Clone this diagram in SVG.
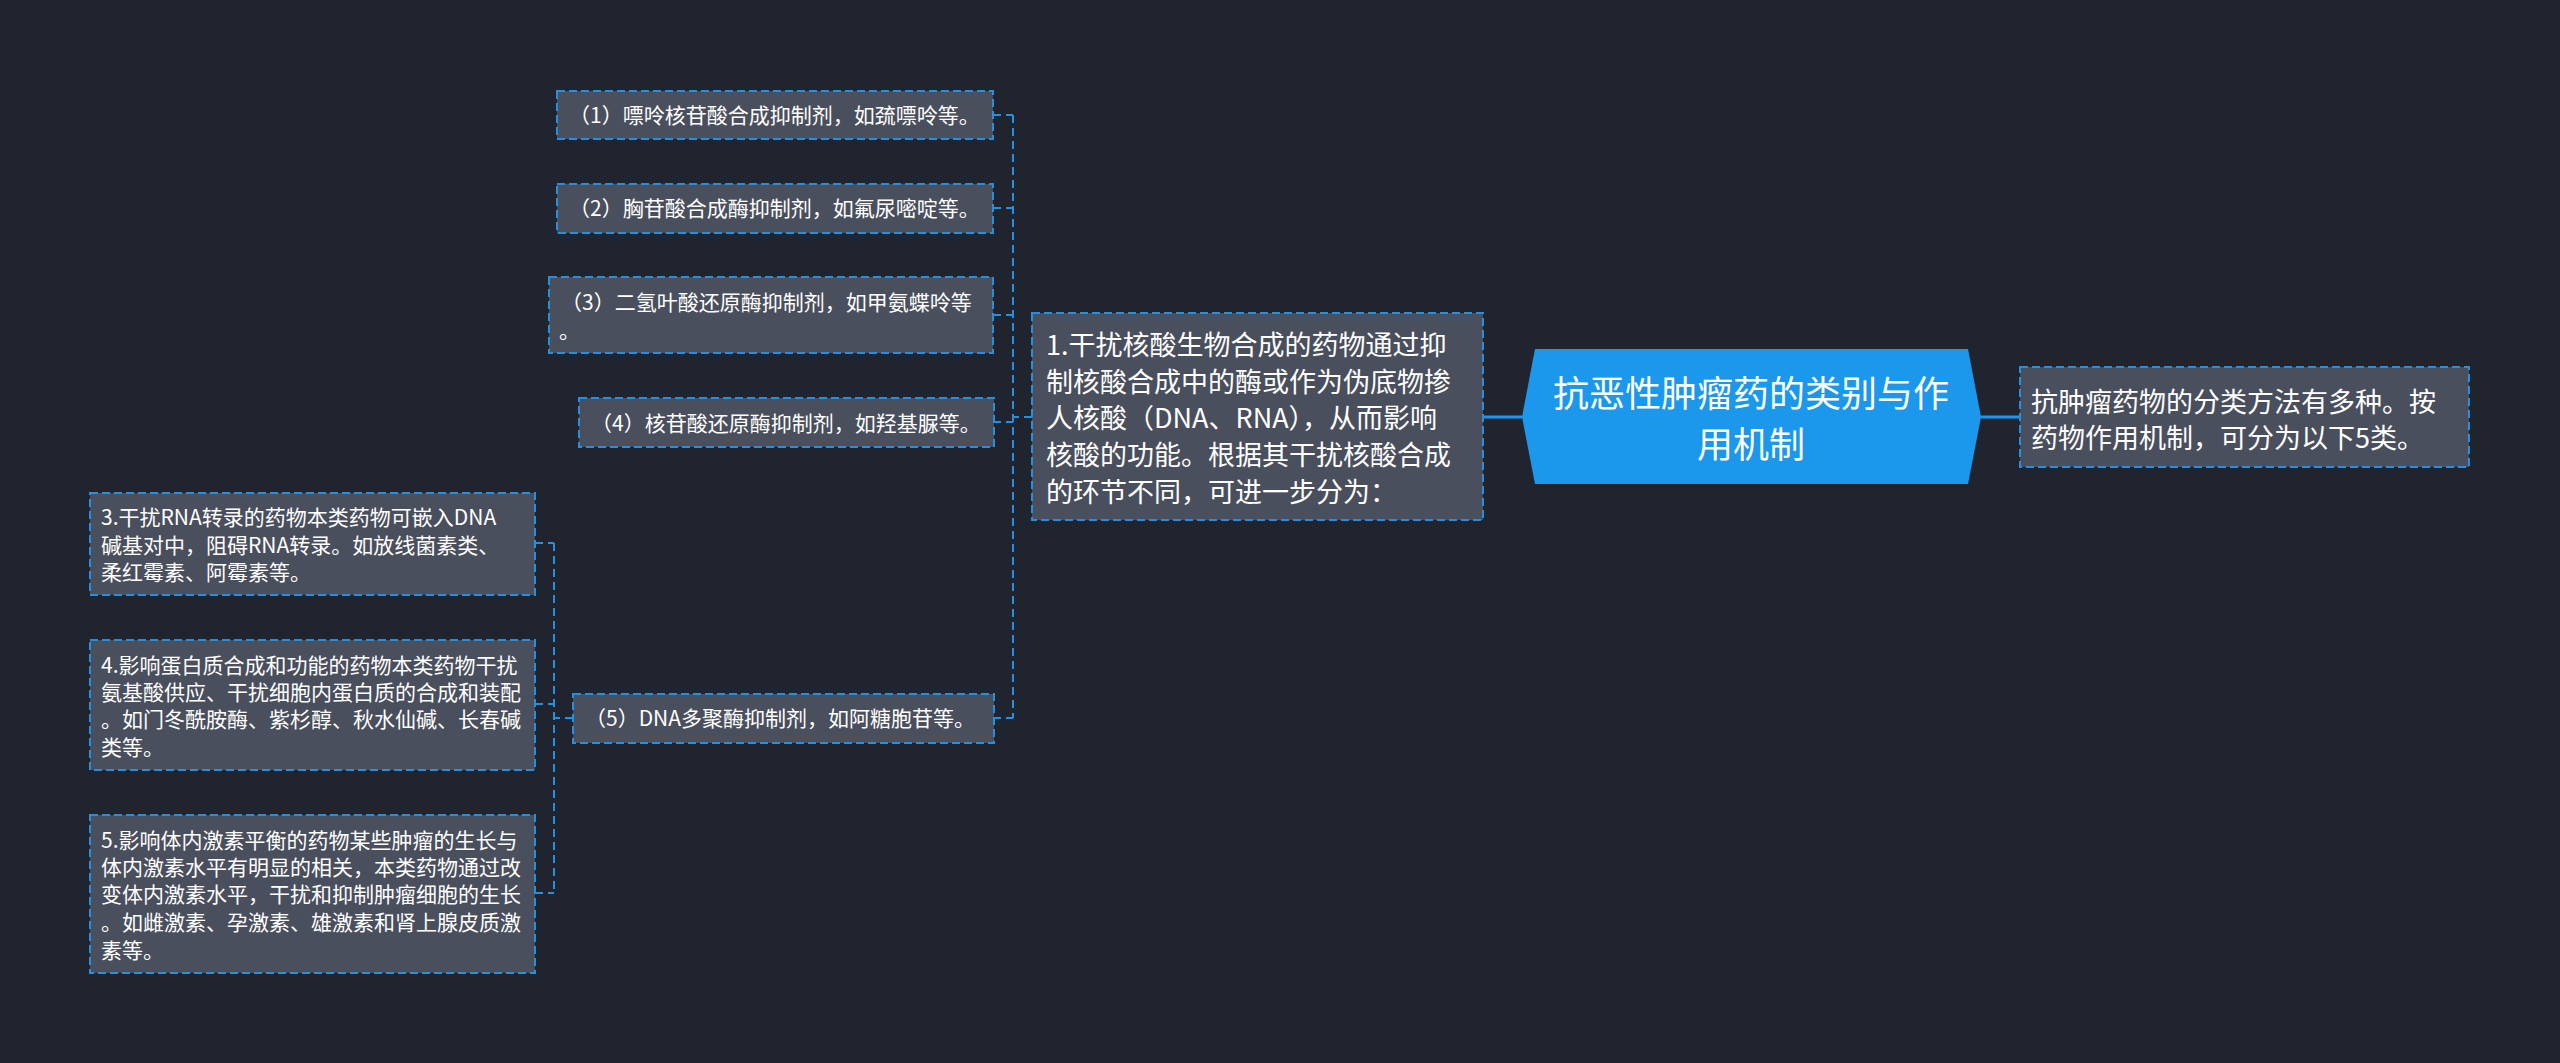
<svg xmlns="http://www.w3.org/2000/svg" width="2560" height="1063" viewBox="0 0 2560 1063">
<style>
.bg{fill:#20242f}
.box{fill:#4a4f5d;stroke:#2690e0;stroke-width:2;stroke-dasharray:8 4}
.conn{fill:none;stroke:#2690e0;stroke-width:2;stroke-dasharray:8 5}
.solid{fill:none;stroke:#1b98ec;stroke-width:3}
.root{fill:#1b98ec}
text{font-family:"Noto Sans CJK SC","Noto Sans",sans-serif;fill:#ffffff}
.s{font-size:21px}
.m{font-size:27px}
.l{font-size:36px}
</style>
<rect class="bg" x="0" y="0" width="2560" height="1063"/>

<g id="connectors">
  <line class="solid" x1="1483" y1="417" x2="1522" y2="417"/>
  <line class="solid" x1="1981" y1="417" x2="2020" y2="417"/>
  <path class="conn" d="M1032 417 H1013 M1013 115 V718 M993 115 H1013 M993 208 H1013 M993 315 H1013 M993 422 H1013 M993 718 H1013"/>
  <path class="conn" d="M573 718 H554 M554 543 V893 M535 543 H554 M535 704 H554 M535 893 H554"/>
</g>

<g id="root">
  <polygon class="root" points="1522,417 1535,349 1968,349 1981,417 1968,484 1535,484"/>
  <text class="l" x="1751" y="407" text-anchor="middle">抗恶性肿瘤药的类别与作</text>
  <text class="l" x="1751" y="458" text-anchor="middle">用机制</text>
</g>

<g id="summary">
  <rect class="box" x="2020" y="367" width="449" height="100"/>
  <text class="m" x="2031" y="412">抗肿瘤药物的分类方法有多种。按</text>
  <text class="m" x="2031" y="448">药物作用机制，可分为以下5类。</text>
</g>

<g id="n1">
  <rect class="box" x="1032" y="313" width="451" height="207"/>
  <text class="m" x="1046" y="355">1.干扰核酸生物合成的药物通过抑</text>
  <text class="m" x="1046" y="392">制核酸合成中的酶或作为伪底物掺</text>
  <text class="m" x="1046" y="428">人核酸（DNA、RNA），从而影响</text>
  <text class="m" x="1046" y="465">核酸的功能。根据其干扰核酸合成</text>
  <text class="m" x="1046" y="502">的环节不同，可进一步分为：</text>
</g>

<g id="n1a">
  <rect class="box" x="557" y="91" width="436" height="48"/>
  <text class="s" x="569" y="123">（1）嘌呤核苷酸合成抑制剂，如巯嘌呤等。</text>
</g>
<g id="n1b">
  <rect class="box" x="557" y="184" width="436" height="49"/>
  <text class="s" x="569" y="216">（2）胸苷酸合成酶抑制剂，如氟尿嘧啶等。</text>
</g>
<g id="n1c">
  <rect class="box" x="549" y="277" width="444" height="76"/>
  <text class="s" x="561" y="310">（3）二氢叶酸还原酶抑制剂，如甲氨蝶呤等</text>
  <text class="s" x="559" y="338">。</text>
</g>
<g id="n1d">
  <rect class="box" x="579" y="398" width="415" height="49"/>
  <text class="s" x="591" y="431">（4）核苷酸还原酶抑制剂，如羟基脲等。</text>
</g>
<g id="n1e">
  <rect class="box" x="573" y="694" width="421" height="49"/>
  <text class="s" x="585" y="726">（5）DNA多聚酶抑制剂，如阿糖胞苷等。</text>
</g>

<g id="n3">
  <rect class="box" x="90" y="493" width="445" height="102"/>
  <text class="s" x="101" y="525">3.干扰RNA转录的药物本类药物可嵌入DNA</text>
  <text class="s" x="101" y="553">碱基对中，阻碍RNA转录。如放线菌素类、</text>
  <text class="s" x="101" y="580">柔红霉素、阿霉素等。</text>
</g>
<g id="n4">
  <rect class="box" x="90" y="640" width="445" height="130"/>
  <text class="s" x="101" y="673">4.影响蛋白质合成和功能的药物本类药物干扰</text>
  <text class="s" x="101" y="700">氨基酸供应、干扰细胞内蛋白质的合成和装配</text>
  <text class="s" x="101" y="727">。如门冬酰胺酶、紫杉醇、秋水仙碱、长春碱</text>
  <text class="s" x="101" y="755">类等。</text>
</g>
<g id="n5">
  <rect class="box" x="90" y="815" width="445" height="158"/>
  <text class="s" x="101" y="848">5.影响体内激素平衡的药物某些肿瘤的生长与</text>
  <text class="s" x="101" y="875">体内激素水平有明显的相关，本类药物通过改</text>
  <text class="s" x="101" y="902">变体内激素水平，干扰和抑制肿瘤细胞的生长</text>
  <text class="s" x="101" y="930">。如雌激素、孕激素、雄激素和肾上腺皮质激</text>
  <text class="s" x="101" y="958">素等。</text>
</g>
</svg>
